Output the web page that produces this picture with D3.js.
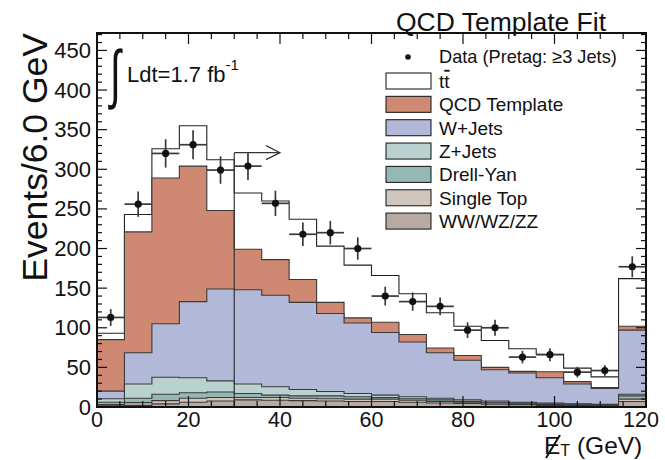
<!DOCTYPE html>
<html><head><meta charset="utf-8">
<script src="https://cdn.jsdelivr.net/npm/d3@7"></script>
<style>
html,body{margin:0;padding:0;background:#fff;}
text{font-family:"Liberation Sans",Arial,Helvetica,sans-serif;fill:#111;}
</style></head>
<body>
<svg id="c" width="665" height="460"></svg>
<script>
// ---- data ----
const binCenters = [3,9,15,21,27,33,39,45,51,57,63,69,75,81,87,93,99,105,111,117];
const binWidth = 6;
const seriesNames = ["WW/WZ/ZZ","Single Top","Drell-Yan","Z+Jets","W+Jets","QCD Template","tt"];
const wwVals   = [1.5,2,4,6,7.5,9,8.5,8,7.5,7,7,6,5,4.5,3.5,3,2,1.7,1.5,7];
const stVals   = [1.5,3.5,4,5,4.5,3,3.5,3,3,3,3,2.5,2,1.5,1.5,1,1,0.8,0.5,3];
const dyVals   = [3,5.5,8,7,7,5,3,3,3.5,3,2,2,2,1,1,1,1,0.9,1,4];
const zVals    = [4.5,18,21.5,19,14,12,10.5,8,5.5,4,3,2.5,2,2,1.5,1,1,0.6,0.5,2];
const wVals    = [9.5,39.5,67.5,96,116,119,115.5,110,98.5,89,79,69,57.5,50,39.5,37,32,25,20,81];
const qcdVals  = [65,152.5,184,171,99,51,45,29,14,6.5,13,9.5,6,6,3,2,7.5,3,1,5];
const ttVals   = [8,22,37,51,64,71,74,76,71,66.5,59,51.5,44.5,37,34,28.5,22,17,13.5,60];
const dataVals = [113,256,320,331,299,304,257,218,220,200,140,133,127,97,100,63,66,44,46,177];
const xTicks = [0,20,40,60,80,100,120];
const yTicks = [0,50,100,150,200,250,300,350,400,450];
const cutValue = 30, cutArrowEnd = 40, cutArrowY = 321;

const colors = {"WW/WZ/ZZ":"#b8aaa0","Single Top":"#d1c6be","Drell-Yan":"#95b8b6",
  "Z+Jets":"#b9d2cf","W+Jets":"#b1b8d8","QCD Template":"#cf8872","tt":"#ffffff"};

const svg = d3.select("#c");
const x = d3.scaleLinear().domain([0,120]).range([97,646]);
const y = d3.scaleLinear().domain([0,472]).range([407,33]);

const rows = binCenters.map((c,i)=>({c, "WW/WZ/ZZ":wwVals[i],"Single Top":stVals[i],"Drell-Yan":dyVals[i],
  "Z+Jets":zVals[i],"W+Jets":wVals[i],"QCD Template":qcdVals[i],"tt":ttVals[i]}));
const stack = d3.stack().keys(seriesNames)(rows);

function stepPath(tops){
  let p = `M${x(binCenters[0]-binWidth/2)},${y(0)}`;
  tops.forEach((v,i)=>{
    const x0 = x(binCenters[i]-binWidth/2), x1 = x(binCenters[i]+binWidth/2);
    p += `L${x0},${y(v)}L${x1},${y(v)}`;
  });
  p += `L${x(binCenters[binCenters.length-1]+binWidth/2)},${y(0)}Z`;
  return p;
}
const g = svg.append("g");
for (let k = stack.length-1; k>=0; k--){
  const layer = stack[k];
  g.append("path").attr("d", stepPath(layer.map(d=>d[1])))
    .attr("fill", colors[layer.key]).attr("stroke", k===stack.length-1?"#222":"#3a3a3a")
    .attr("stroke-width", 1.1).attr("stroke-linejoin","miter");
}

// cut line and arrow
g.append("line").attr("x1",x(cutValue)).attr("x2",x(cutValue)).attr("y1",y(0)).attr("y2",y(cutArrowY))
  .attr("stroke","#333").attr("stroke-width",1.2);
g.append("line").attr("x1",x(cutValue)).attr("x2",x(cutArrowEnd)).attr("y1",y(cutArrowY)).attr("y2",y(cutArrowY))
  .attr("stroke","#333").attr("stroke-width",1.2);
g.append("path").attr("d",`M${x(cutArrowEnd)-14},${y(cutArrowY)-7}L${x(cutArrowEnd)},${y(cutArrowY)}L${x(cutArrowEnd)-14},${y(cutArrowY)+7}`)
  .attr("fill","none").attr("stroke","#333").attr("stroke-width",1.2);

// data points
const dg = svg.append("g");
binCenters.forEach((c,i)=>{
  const v = dataVals[i], e = Math.sqrt(v);
  dg.append("line").attr("x1",x(c-binWidth/2)).attr("x2",x(c+binWidth/2)).attr("y1",y(v)).attr("y2",y(v))
    .attr("stroke","#3a3a3a").attr("stroke-width",1.7);
  dg.append("line").attr("x1",x(c)).attr("x2",x(c)).attr("y1",y(v-e)).attr("y2",y(v+e))
    .attr("stroke","#3a3a3a").attr("stroke-width",1.7);
  dg.append("circle").attr("cx",x(c)).attr("cy",y(v)).attr("r",3.6).attr("fill","#111");
});

// frame
svg.append("rect").attr("x",x(0)).attr("y",y(472)).attr("width",x(120)-x(0)).attr("height",y(0)-y(472))
  .attr("fill","none").attr("stroke","#111").attr("stroke-width",2);

// ticks (inward)
const tg = svg.append("g").attr("stroke","#111").attr("stroke-width",1.2);
d3.range(0,471,10).forEach(v=>{
  const L = v%50===0?10:5;
  tg.append("line").attr("x1",x(0)).attr("x2",x(0)+L).attr("y1",y(v)).attr("y2",y(v));
  tg.append("line").attr("x1",x(120)).attr("x2",x(120)-L).attr("y1",y(v)).attr("y2",y(v));
});
d3.range(0,121,5).forEach(v=>{
  const L = v%20===0?11:6;
  tg.append("line").attr("x1",x(v)).attr("x2",x(v)).attr("y1",y(0)).attr("y2",y(0)-L);
  tg.append("line").attr("x1",x(v)).attr("x2",x(v)).attr("y1",y(472)).attr("y2",y(472)+L);
});

// tick labels
yTicks.forEach(v=>{
  svg.append("text").attr("x",91).attr("y",y(v)+7.5).attr("text-anchor","end")
    .attr("font-size",22).text(v);
});
xTicks.forEach(v=>{
  svg.append("text").attr("x",x(v) - (v===120?5:0)).attr("y",427).attr("text-anchor","middle")
    .attr("font-size",21.5).text(v);
});

// axis titles
svg.append("text").attr("transform","translate(47,33) rotate(-90)").attr("text-anchor","end")
  .attr("font-size",35.5).text("Events/6.0 GeV");
const xt = svg.append("text").attr("x",544).attr("y",454).attr("font-size",24.5);
xt.append("tspan").text("E");
xt.append("tspan").attr("font-size",16).attr("dy",2).text("T");
xt.append("tspan").attr("dy",-2).text(" (GeV)");
svg.append("line").attr("x1",546).attr("y1",458).attr("x2",560).attr("y2",435).attr("stroke","#111").attr("stroke-width",2);

// title
svg.append("text").attr("x",501).attr("y",31).attr("text-anchor","middle").attr("font-size",26.5).text("QCD Template Fit");

// luminosity
svg.append("text").attr("transform","translate(110,96) scale(0.75,1.25)").attr("font-size",52)
  .attr("font-family","DejaVu Sans").text("∫");
const lt = svg.append("text").attr("x",127).attr("y",82).attr("font-size",22);
lt.append("tspan").text("Ldt=1.7 fb");
lt.append("tspan").attr("font-size",15).attr("dy",-12).text("-1");

// legend
const legendItems = ["tt","QCD Template","W+Jets","Z+Jets","Drell-Yan","Single Top","WW/WZ/ZZ"];
const lg = svg.append("g");
lg.append("circle").attr("cx",408).attr("cy",57).attr("r",2.8).attr("fill","#111");
lg.append("text").attr("x",439).attr("y",63).attr("font-size",18.2).text("Data (Pretag: ≥3 Jets)");
legendItems.forEach((n,i)=>{
  const cy = 81 + i*23.35;
  lg.append("rect").attr("x",386).attr("y",cy-8).attr("width",45).attr("height",16)
    .attr("fill",colors[n]).attr("stroke","#222").attr("stroke-width",1.1);
  const t = lg.append("text").attr("x",439).attr("y",cy+6.8).attr("font-size",19);
  if (n==="tt"){ t.append("tspan").text("t"); t.append("tspan").attr("text-decoration","overline").text("t"); }
  else t.text(n);
});
</script>
</body></html>
